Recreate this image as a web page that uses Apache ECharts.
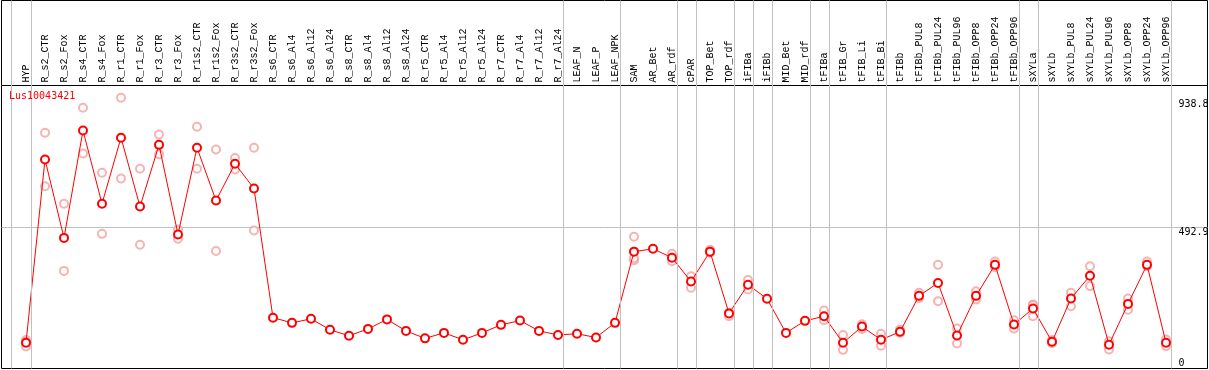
<!DOCTYPE html>
<html>
<head>
<meta charset="utf-8">
<script src="https://cdn.jsdelivr.net/npm/echarts@6/dist/echarts.min.js"></script>
<style>
html,body{margin:0;padding:0;background:#fff;}
#chart{width:1209px;height:370px;}
</style>
</head>
<body>
<div id="chart"></div>
<script>
var geneName = 'Lus10043421';

var categories = ['HYP','R_s2_CTR','R_s2_Fox','R_s4_CTR','R_s4_Fox','R_r1_CTR','R_r1_Fox','R_r3_CTR','R_r3_Fox',
  'R_r1s2_CTR','R_r1s2_Fox','R_r3s2_CTR','R_r3s2_Fox',
  'R_s6_CTR','R_s6_Al4','R_s6_Al12','R_s6_Al24','R_s8_CTR','R_s8_Al4','R_s8_Al12','R_s8_Al24',
  'R_r5_CTR','R_r5_Al4','R_r5_Al12','R_r5_Al24','R_r7_CTR','R_r7_Al4','R_r7_Al12','R_r7_Al24',
  'LEAF_N','LEAF_P','LEAF_NPK','SAM','AR_Bet','AR_rdf','cPAR','TOP_Bet','TOP_rdf','iFIBa','iFIBb',
  'MID_Bet','MID_rdf','tFIBa','tFIB_Gr','tFIB_Li','tFIB_Bi','tFIBb',
  'tFIBb_PUL8','tFIBb_PUL24','tFIBb_PUL96','tFIBb_OPP8','tFIBb_OPP24','tFIBb_OPP96',
  'sXYLa','sXYLb','sXYLb_PUL8','sXYLb_PUL24','sXYLb_PUL96','sXYLb_OPP8','sXYLb_OPP24','sXYLb_OPP96'];

var meanValues = [89.5, 728, 455, 829, 574, 804, 564, 779, 467, 769, 585, 713, 627,
  177, 159, 173, 135, 114, 138, 171, 131, 105, 124, 100, 124, 152, 167, 131, 117,
  121, 108, 159, 407, 417, 386, 303, 407, 192, 292, 243, 124, 166, 182, 89.5, 146, 100,
  128, 253, 298, 115, 253, 361, 153, 209, 93, 244, 323, 83, 225, 361, 89.5];

var replicateA = [99, 821, 574, 908, 682, 943, 696, 815, 484, 842, 763, 733, 769,
  null, null, null, null, null, null, null, null, null, null, null, null, null, null, null, null,
  null, null, null, 459, null, 400, 321, 414, 194, 308, null, null, null, 202, 117, 154, 121,
  136, 264, 361, 139, 269, 373, 168, 223, 99, 264, 356, 95, 244, 373, 101];

var replicateB = [77, 635, 340, 749, 469, 662, 431, 746, 452, 696, 409, 693, 481,
  null, null, null, null, null, null, null, null, null, null, null, null, null, null, null, null,
  null, null, null, 377, null, 374, 281, 403, 182, 275, null, null, null, 168, 65, 138, 79,
  124, 245, 234, 87, 240, 353, 139, 182, 88, 217, 287, 66, 205, 356, 78];

var replicateC = [92, null, null, null, null, null, null, null, null, null, null, null, null,
  null, null, null, null, null, null, null, null, null, null, null, null, null, null, null, null,
  null, null, null, 384, null, null, null, null, null, null, null, null, null, null, null, null, null,
  null, null, null, null, null, null, null, 220, null, null, null, null, null, null, null];

var yTickLabelsTop = [492.9, 938.8];
var yTickLabelsBottom = [0];
var yMax = 985.8;

// group separators (positions in category units)
var separatorPositions = [-0.8, 0.25, 28.25, 31.25, 34.25, 35.25, 37.25, 38.25, 39.25, 41.25, 42.25, 45.25, 52.25, 53.25, 60.25];

var replicatePoints = [];
[replicateA, replicateB, replicateC].forEach(function (arr) {
  arr.forEach(function (v, i) { if (v !== null) replicatePoints.push([i, v]); });
});

var FONT = 'DejaVu Sans Mono';
var LABEL_FONT = 'Liberation Mono';
var chart = echarts.init(document.getElementById('chart'), null, {renderer: 'canvas'});

chart.setOption({
  animation: false,
  backgroundColor: '#fff',
  textStyle: {fontFamily: FONT},
  title: {
    text: geneName, left: 9, top: 91, padding: 0,
    textStyle: {color: '#ff0000', fontSize: 10, fontWeight: 'normal', fontFamily: FONT}
  },
  grid: [
    {left: 1.5, top: 0.5, width: 1206, height: 85, show: true, borderColor: '#000', borderWidth: 1, backgroundColor: 'transparent', outerBoundsMode: 'none', containLabel: false},
    {left: 1.5, top: 85.5, width: 1206, height: 283, show: true, borderColor: '#000', borderWidth: 1, backgroundColor: 'transparent', outerBoundsMode: 'none', containLabel: false},
    {left: 16.5, top: 85.5, width: 1159, height: 283, show: false, outerBoundsMode: 'none', containLabel: false},
    {left: 2.25, top: 0.5, width: 1192.25, height: 368, show: false, outerBoundsMode: 'none', containLabel: false}
  ],
  xAxis: [
    {gridIndex: 0, type: 'value', show: false},
    {gridIndex: 1, type: 'value', show: false},
    {gridIndex: 2, type: 'category', data: categories, position: 'top', boundaryGap: true,
      axisLine: {show: false}, axisTick: {show: false}, splitLine: {show: false},
      axisLabel: {show: true, interval: 0, rotate: 90, margin: 3, fontSize: 10, fontFamily: LABEL_FONT, color: '#000'}},
    {gridIndex: 3, type: 'value', min: -1.25, max: 61.5, show: false}
  ],
  yAxis: [
    {gridIndex: 0, type: 'value', show: false},
    {gridIndex: 1, type: 'value', min: 0, max: yMax, interval: yTickLabelsTop[0],
      axisLine: {show: false}, axisTick: {show: false}, axisLabel: {show: false},
      splitLine: {show: true, showMinLine: false, showMaxLine: false, lineStyle: {color: '#c0c0c0', width: 1, type: 'solid'}}},
    {gridIndex: 2, type: 'value', min: 0, max: yMax, position: 'right', offset: 0,
      axisLine: {show: false}, axisTick: {show: false}, splitLine: {show: false},
      axisLabel: {show: true, customValues: yTickLabelsTop, verticalAlign: 'top', margin: 3, fontSize: 10, fontFamily: FONT, color: '#000',
        formatter: function (v) { return String(v); }}},
    {gridIndex: 2, type: 'value', min: 0, max: yMax, position: 'right', offset: 0,
      axisLine: {show: false}, axisTick: {show: false}, splitLine: {show: false},
      axisLabel: {show: true, customValues: yTickLabelsBottom, verticalAlign: 'bottom', margin: 3, fontSize: 10, fontFamily: FONT, color: '#000',
        formatter: function (v) { return String(v); }}},
    {gridIndex: 3, type: 'value', min: 0, max: 1, show: false}
  ],
  series: [
    {
      name: 'separators', type: 'line', xAxisIndex: 3, yAxisIndex: 4, data: [], silent: true,
      markLine: {
        silent: true, animation: false, symbol: ['none', 'none'],
        label: {show: false},
        lineStyle: {color: '#c0c0c0', width: 1, type: 'solid'},
        emphasis: {disabled: true},
        data: separatorPositions.map(function (p) { return {xAxis: p}; })
      },
      z: 1
    },
    {
      name: 'replicates', type: 'scatter', xAxisIndex: 2, yAxisIndex: 2,
      data: replicatePoints, symbol: 'emptyCircle', symbolSize: 8,
      itemStyle: {color: '#f2a0a0', borderColor: '#f09898', borderWidth: 1.2},
      z: 2, silent: true
    },
    {
      name: geneName, type: 'line', xAxisIndex: 2, yAxisIndex: 2,
      data: meanValues, symbol: 'emptyCircle', symbolSize: 8, showAllSymbol: true,
      lineStyle: {color: '#ff0000', width: 1},
      itemStyle: {color: '#ff0000', borderColor: '#ff0000', borderWidth: 1.4},
      z: 3, silent: true
    }
  ]
});
</script>
</body>
</html>
